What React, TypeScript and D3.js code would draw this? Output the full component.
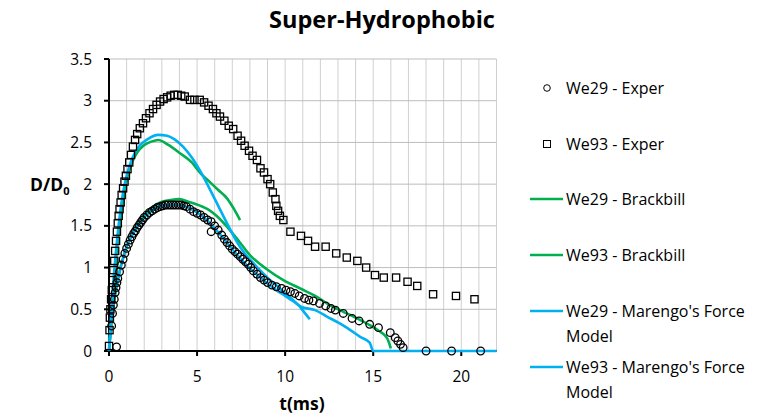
import * as d3 from 'd3'

// t (ms), D/D0
const we29Exper: [number, number][] = [
  [0.43, 0.05], [0.15, 0.3], [0.2, 0.45], [0.25, 0.55], [0.3, 0.62], [0.35, 0.7], [0.4, 0.76],
  [0.45, 0.82], [0.5, 0.87], [0.6, 0.95], [0.7, 1.03], [0.8, 1.1], [0.9, 1.17], [1.0, 1.23],
  [1.1, 1.28], [1.2, 1.33], [1.3, 1.37], [1.4, 1.41], [1.5, 1.44], [1.6, 1.48], [1.7, 1.51],
  [1.8, 1.54], [1.9, 1.57], [2.0, 1.6], [2.15, 1.63], [2.3, 1.66], [2.45, 1.68], [2.6, 1.7],
  [2.75, 1.72], [2.9, 1.73], [3.05, 1.74], [3.2, 1.75], [3.35, 1.75], [3.5, 1.75], [3.65, 1.75],
  [3.8, 1.75], [3.95, 1.75], [4.1, 1.75], [4.25, 1.74], [4.4, 1.73], [4.6, 1.7], [4.8, 1.67],
  [5.0, 1.65], [5.2, 1.63], [5.4, 1.6], [5.6, 1.57], [5.8, 1.43], [5.8, 1.55], [6.0, 1.5],
  [6.2, 1.45], [6.4, 1.39], [6.55, 1.34], [6.7, 1.3], [6.85, 1.26], [7.0, 1.22], [7.15, 1.19],
  [7.3, 1.16], [7.45, 1.13], [7.6, 1.1], [7.75, 1.07], [7.9, 1.04], [8.05, 1.0], [8.2, 0.96],
  [8.4, 0.92], [8.6, 0.88], [8.8, 0.85], [9.0, 0.82], [9.25, 0.79], [9.5, 0.77], [9.8, 0.75],
  [10.05, 0.73], [10.3, 0.71], [10.55, 0.69], [10.8, 0.66], [11.1, 0.63], [11.35, 0.61],
  [11.6, 0.6], [11.95, 0.57], [12.3, 0.54], [12.6, 0.51], [12.85, 0.49], [13.3, 0.45],
  [13.8, 0.39], [14.2, 0.36], [14.8, 0.32], [15.3, 0.28], [15.97, 0.22], [16.25, 0.16],
  [16.4, 0.12], [16.55, 0.08], [16.7, 0.04], [18.0, 0], [19.45, 0], [21.1, 0],
]

const we93Exper: [number, number][] = [
  [0, 0.06], [0.03, 0.25], [0.05, 0.4], [0.08, 0.5], [0.12, 0.62], [0.16, 0.73], [0.2, 0.85],
  [0.25, 0.97], [0.3, 1.08], [0.35, 1.2], [0.4, 1.32], [0.45, 1.43], [0.5, 1.53], [0.55, 1.62],
  [0.6, 1.7], [0.66, 1.78], [0.72, 1.87], [0.8, 1.95], [0.88, 2.03], [0.96, 2.1], [1.05, 2.18],
  [1.15, 2.26], [1.25, 2.35], [1.36, 2.45], [1.48, 2.53], [1.6, 2.6], [1.75, 2.67], [1.93, 2.73],
  [2.1, 2.79], [2.3, 2.85], [2.5, 2.9], [2.7, 2.95], [2.9, 2.99], [3.1, 3.02], [3.3, 3.04],
  [3.5, 3.06], [3.7, 3.07], [3.9, 3.07], [4.1, 3.06], [4.3, 3.05], [4.6, 3.01], [4.85, 3.01],
  [5.15, 3.01], [5.4, 2.98], [5.65, 2.94], [5.9, 2.9], [6.1, 2.85], [6.3, 2.81], [6.55, 2.76],
  [6.8, 2.7], [7.05, 2.66], [7.3, 2.58], [7.5, 2.52], [7.7, 2.46], [7.95, 2.4], [8.15, 2.34],
  [8.4, 2.29], [8.6, 2.19], [8.8, 2.14], [9.0, 2.06], [9.15, 2.0], [9.3, 1.9], [9.45, 1.82],
  [9.5, 1.74], [9.6, 1.68], [9.7, 1.62], [9.9, 1.57], [10.3, 1.43], [10.9, 1.38], [11.3, 1.32],
  [11.7, 1.25], [12.3, 1.25], [12.9, 1.17], [13.5, 1.12], [14.1, 1.08], [14.6, 1.0], [15.1, 0.91],
  [15.6, 0.88], [16.3, 0.88], [16.95, 0.83], [17.5, 0.78], [18.4, 0.68], [19.7, 0.66], [20.75, 0.62],
]

const we29Brackbill: [number, number][] = [
  [0, 0], [0.2, 0.45], [0.5, 0.85], [1.0, 1.25], [1.5, 1.47], [2.0, 1.62], [2.5, 1.73],
  [3.0, 1.79], [3.5, 1.81], [4.0, 1.82], [4.5, 1.79], [5.2, 1.74], [5.6, 1.7], [6.1, 1.62],
  [6.9, 1.44], [7.4, 1.31], [8.0, 1.15], [8.96, 0.98], [9.9, 0.85], [10.85, 0.75], [11.8, 0.65],
  [12.45, 0.56], [13.2, 0.48], [13.9, 0.41], [14.8, 0.31], [15.4, 0.23], [15.8, 0.15], [16.0, 0.03],
]

const we93Brackbill: [number, number][] = [
  [0, 0], [0.2, 0.6], [0.4, 1.1], [0.6, 1.5], [0.8, 1.8], [1.0, 2.05], [1.3, 2.26], [1.6, 2.38],
  [1.95, 2.46], [2.4, 2.51], [2.8, 2.53], [3.37, 2.47], [4.03, 2.37], [4.7, 2.26], [5.2, 2.13],
  [5.7, 2.03], [6.2, 1.93], [6.7, 1.83], [7.1, 1.7], [7.44, 1.57],
]

const we29Marengo: [number, number][] = [
  [0, 0], [0.2, 0.5], [0.5, 0.85], [1.0, 1.25], [1.5, 1.45], [2.0, 1.6], [2.5, 1.69], [3.0, 1.74],
  [3.5, 1.75], [4.0, 1.75], [4.5, 1.72], [5.0, 1.66], [5.5, 1.58], [6.0, 1.47], [6.5, 1.35],
  [7.0, 1.22], [7.5, 1.1], [8.0, 0.99], [8.5, 0.9], [9.0, 0.81], [9.5, 0.73], [10.0, 0.66],
  [10.5, 0.59], [10.9, 0.53], [11.7, 0.49], [12.4, 0.41], [13.1, 0.33], [13.7, 0.25],
  [14.26, 0.17], [14.8, 0.1], [15.0, 0], [18.0, 0], [22.0, 0],
]

const we93Marengo: [number, number][] = [
  [0, 0], [0.2, 0.7], [0.4, 1.2], [0.6, 1.6], [0.8, 1.9], [1.0, 2.1], [1.3, 2.3], [1.7, 2.45],
  [2.2, 2.54], [2.8, 2.59], [3.3, 2.58], [3.7, 2.54], [4.2, 2.45], [4.7, 2.32], [5.2, 2.15],
  [5.7, 1.95], [6.2, 1.74], [6.7, 1.53], [7.2, 1.33], [7.7, 1.17], [8.3, 1.03], [9.0, 0.88],
  [9.7, 0.75], [10.3, 0.64], [10.8, 0.54], [11.1, 0.46], [11.4, 0.38],
]

const xTicks = [0, 5, 10, 15, 20]
const yTicks = [0, 0.5, 1, 1.5, 2, 2.5, 3, 3.5]

const GREEN = '#00B050'
const BLUE = '#00B0F0'
const FONT = '"Open Sans", "Noto Sans", sans-serif'

export default function App() {
  const width = 765
  const height = 419
  const x = d3.scaleLinear().domain([0, 22]).range([109, 496.5])
  const y = d3.scaleLinear().domain([0, 3.5]).range([351, 59])

  const line = d3
    .line<[number, number]>()
    .x(d => x(d[0]))
    .y(d => y(d[1]))
    .curve(d3.curveMonotoneX)

  const vGrid = d3.range(1, 23)
  const hGrid = d3.range(0.5, 3.51, 0.5)

  const lines = [
    { data: we29Brackbill, color: GREEN },
    { data: we93Brackbill, color: GREEN },
    { data: we29Marengo, color: BLUE },
    { data: we93Marengo, color: BLUE },
  ]

  const legend = [
    { kind: 'circle', label: ['We29 - Exper'], y: 88 },
    { kind: 'square', label: ['We93 - Exper'], y: 144 },
    { kind: 'line', color: GREEN, label: ['We29 - Brackbill'], y: 199 },
    { kind: 'line', color: GREEN, label: ['We93 - Brackbill'], y: 255 },
    { kind: 'line', color: BLUE, label: ["We29 - Marengo's Force", 'Model'], y: 311 },
    { kind: 'line', color: BLUE, label: ["We93 - Marengo's Force", 'Model'], y: 367 },
  ]

  return (
    <svg width={width} height={height} style={{ display: 'block', position: 'absolute', left: 0, top: 0 }}>
      <rect width={width} height={height} fill="#fff" />
      <text x={382} y={28} textAnchor="middle" fontFamily={FONT} fontWeight="bold" fontSize={23.5} fill="#000">
        Super-Hydrophobic
      </text>

      {/* grid */}
      {vGrid.map(v => (
        <line key={'v' + v} x1={x(v)} x2={x(v)} y1={y(0)} y2={y(3.5)} stroke="#d0d0d0" strokeWidth={1} />
      ))}
      {hGrid.map(v => (
        <line key={'h' + v} x1={x(0)} x2={x(22)} y1={y(v)} y2={y(v)} stroke="#bdbdbd" strokeWidth={1} />
      ))}

      {/* axes */}
      <line x1={x(0)} x2={x(22)} y1={y(0)} y2={y(0)} stroke="#000" strokeWidth={2} />
      <line x1={x(0)} x2={x(0)} y1={y(0) + 1} y2={y(3.5)} stroke="#000" strokeWidth={2} />
      {yTicks.map(v => (
        <g key={'yt' + v}>
          <line x1={x(0) - 5} x2={x(0)} y1={y(v)} y2={y(v)} stroke="#000" strokeWidth={2} />
          <text x={92} y={y(v) + 5.5} textAnchor="end" fontFamily={FONT} fontSize={15.5} fill="#000">
            {v}
          </text>
        </g>
      ))}
      {xTicks.map(v => (
        <g key={'xt' + v}>
          <line x1={x(v)} x2={x(v)} y1={y(0)} y2={y(0) + 5} stroke="#000" strokeWidth={2} />
          <text x={x(v)} y={381.5} textAnchor="middle" fontFamily={FONT} fontSize={15.5} fill="#000">
            {v}
          </text>
        </g>
      ))}
      <text x={302} y={410} textAnchor="middle" fontFamily={FONT} fontWeight="bold" fontSize={17.5} fill="#000">
        t(ms)
      </text>
      <text x={30} y={191} fontFamily={FONT} fontWeight="bold" fontSize={17.5} fill="#000">
        D/D<tspan fontSize={11} dy={4}>0</tspan>
      </text>

      {/* model lines */}
      {lines.map((l, i) => (
        <path key={'l' + i} d={line(l.data) ?? ''} fill="none" stroke={l.color} strokeWidth={2.6} strokeLinejoin="round" />
      ))}

      {/* experiment markers */}
      {we93Exper.map((d, i) => (
        <rect key={'s' + i} x={x(d[0]) - 3.6} y={y(d[1]) - 3.6} width={7.2} height={7.2} fill="none" stroke="#000" strokeWidth={1.3} />
      ))}
      {we29Exper.map((d, i) => (
        <circle key={'c' + i} cx={x(d[0])} cy={y(d[1])} r={3.8} fill="none" stroke="#000" strokeWidth={1.3} />
      ))}

      {/* legend */}
      {legend.map((it, i) => (
        <g key={'lg' + i}>
          {it.kind === 'circle' && <circle cx={547} cy={it.y} r={3.3} fill="none" stroke="#000" strokeWidth={1} />}
          {it.kind === 'square' && <rect x={543.5} y={it.y - 3.5} width={7} height={7} fill="none" stroke="#000" strokeWidth={1} />}
          {it.kind === 'line' && <line x1={530} x2={563} y1={it.y} y2={it.y} stroke={it.color} strokeWidth={2.6} />}
          {it.label.map((s, j) => (
            <text key={j} x={566} y={it.y + 6 + j * 25} fontFamily={FONT} fontSize={16} fill="#000">
              {s}
            </text>
          ))}
        </g>
      ))}
    </svg>
  )
}
